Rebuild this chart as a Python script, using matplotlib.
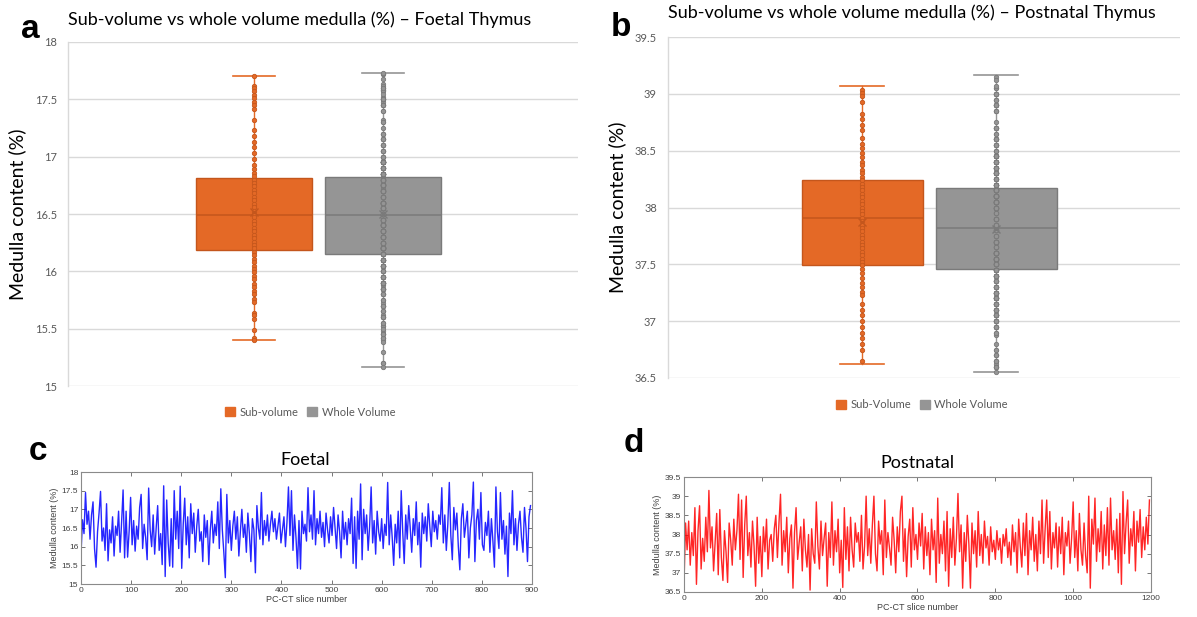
import numpy as np
import matplotlib
matplotlib.use("Agg")
import matplotlib.pyplot as plt
from matplotlib.patches import Patch

# ---------------- data ----------------
box_labels_a = ["Sub-volume", "Whole Volume"]
box_labels_b = ["Sub-Volume", "Whole Volume"]

foetal_whislo = [15.40, 15.17]
foetal_q1 = [16.19, 16.15]
foetal_med = [16.49, 16.49]
foetal_q3 = [16.81, 16.82]
foetal_whishi = [17.70, 17.73]
foetal_mean = [16.52, 16.50]

post_whislo = [36.62, 36.55]
post_q1 = [37.49, 37.46]
post_med = [37.91, 37.82]
post_q3 = [38.24, 38.17]
post_whishi = [39.07, 39.17]
post_mean = [37.87, 37.81]

# sub-volume inner points (panel a / b)
sub_foetal_points = [17.70, 17.62, 17.60, 17.57, 17.54, 17.51, 17.48, 17.45, 17.42, 17.32,
                     17.23, 17.18, 17.13, 17.08, 17.03, 16.98, 16.93, 16.89, 16.86, 16.83,
                     16.80, 16.77, 16.74, 16.71, 16.68, 16.65, 16.62, 16.59, 16.56, 16.53,
                     16.50, 16.47, 16.44, 16.41, 16.38, 16.35, 16.32, 16.29, 16.26, 16.23,
                     16.20, 16.17, 16.14, 16.11, 16.08, 16.05, 16.02, 15.99, 15.96, 15.93,
                     15.89, 15.86, 15.83, 15.80, 15.76, 15.73, 15.64, 15.62, 15.58, 15.49,
                     15.42, 15.40]
sub_post_points = [39.03, 39.01, 38.98, 38.93, 38.82, 38.78, 38.73, 38.68, 38.61, 38.56,
                   38.52, 38.48, 38.44, 38.40, 38.37, 38.33, 38.30, 38.27, 38.24, 38.21,
                   38.18, 38.15, 38.12, 38.09, 38.06, 38.03, 38.00, 37.97, 37.94, 37.91,
                   37.88, 37.85, 37.82, 37.79, 37.76, 37.73, 37.70, 37.67, 37.64, 37.61,
                   37.58, 37.55, 37.52, 37.49, 37.46, 37.42, 37.38, 37.34, 37.30, 37.26,
                   37.23, 37.15, 37.10, 37.05, 37.00, 36.95, 36.90, 36.85, 36.80, 36.75,
                   36.65]

# panel c: foetal medulla content, every 3rd PC-CT slice
foetal_slices_step = 3
foetal_series = [
    15.80, 16.72, 16.35, 17.45, 16.60, 16.95, 16.20, 16.85, 17.20, 15.95,
    15.45, 16.40, 16.90, 17.48, 16.15, 16.50, 15.90, 17.15, 15.62, 16.45,
    16.10, 16.80, 15.75, 16.55, 16.30, 16.95, 15.85, 16.65, 17.52, 15.70,
    16.95, 15.72, 16.40, 17.32, 16.05, 16.70, 15.88, 16.55, 16.20, 17.05,
    17.40, 15.95, 16.60, 16.25, 15.65, 17.57, 16.45, 16.00, 16.85, 15.80,
    16.50, 17.10, 15.90, 16.35, 15.52, 17.63, 15.20, 17.25, 16.10, 15.48,
    16.75, 15.45, 17.50, 16.20, 16.95, 15.95, 17.62, 15.42, 16.60, 17.30,
    16.05, 16.80, 15.70, 17.15, 16.35, 16.90, 15.85, 16.55, 17.00, 16.15,
    16.40, 15.60, 16.85, 16.25, 16.70, 15.52, 16.45, 16.95, 16.10, 16.60,
    16.30, 17.20, 15.95, 17.55, 16.45, 15.85, 15.17, 17.40, 16.10, 16.70,
    15.90, 16.55, 16.95, 16.20, 16.80, 15.75, 16.40, 17.00, 16.25, 16.60,
    15.85, 16.90, 16.35, 15.60, 16.75, 16.45, 15.30, 17.10, 16.50, 16.20,
    17.45, 16.05, 16.70, 16.30, 16.85, 16.15, 16.60, 16.95, 16.40, 16.75,
    16.20, 16.55, 16.90, 16.10, 16.45, 16.80, 16.00, 16.65, 17.60, 16.30,
    17.50, 15.90, 16.85, 16.25, 15.42, 16.70, 15.40, 16.95, 16.35, 16.60,
    16.15, 17.58, 16.40, 16.85, 16.20, 17.50, 16.05, 16.75, 16.35, 16.95,
    16.25, 16.65, 16.00, 16.90, 16.45, 16.10, 16.80, 16.30, 17.05, 16.50,
    15.95, 16.85, 16.40, 15.70, 16.95, 16.20, 16.65, 16.05, 16.75, 16.35,
    17.30, 15.55, 16.80, 15.42, 16.95, 16.20, 17.68, 15.65, 17.00, 16.35,
    16.85, 15.90, 16.55, 17.60, 16.10, 16.70, 15.80, 16.95, 16.40, 16.15,
    16.75, 15.95, 16.60, 16.30, 17.72, 16.05, 16.85, 16.25, 15.50, 16.60,
    16.10, 16.95, 15.70, 17.50, 16.40, 15.55, 16.85, 16.20, 17.10, 16.50,
    15.85, 16.75, 16.30, 17.20, 16.05, 16.65, 15.45, 16.90, 16.35, 16.80,
    16.15, 17.15, 16.55, 16.00, 16.95, 16.40, 16.70, 16.20, 16.85, 16.60,
    17.58, 16.10, 16.85, 15.90, 16.60, 17.72, 16.30, 15.65, 17.05, 16.45,
    16.90, 16.00, 15.38, 16.75, 17.15, 16.25, 16.60, 16.95, 15.70, 16.50,
    16.85, 17.73, 15.60, 16.70, 17.00, 16.20, 17.45, 16.05, 15.90, 16.65,
    16.30, 16.95, 15.85, 16.75, 16.15, 15.45, 17.60, 16.40, 15.95, 17.45,
    16.20, 16.70, 15.80, 16.55, 15.20, 16.90, 16.35, 17.50, 16.05, 16.75,
    15.90, 16.60, 16.95, 16.25, 15.85, 17.05, 16.50, 15.60, 16.80, 17.10,
]

# panel d: postnatal medulla content, every 4th PC-CT slice
post_slices_step = 4
post_series = [
    36.70, 38.30, 37.60, 38.35, 37.20, 38.05, 37.45, 38.70, 36.70, 38.10,
    38.75, 37.10, 37.90, 37.30, 38.45, 37.55, 39.15, 37.65, 38.20, 37.05,
    37.80, 38.55, 36.95, 38.65, 37.40, 36.80, 38.10, 37.55, 36.75, 38.30,
    37.85, 37.20, 38.40, 37.60, 38.10, 39.05, 37.35, 38.90, 36.88, 38.25,
    39.00, 37.45, 38.05, 37.15, 38.35, 37.70, 36.65, 38.45, 37.25, 37.95,
    36.90, 38.20, 37.55, 38.40, 37.10, 37.85, 38.00, 37.30, 38.15, 38.50,
    37.40, 38.30, 39.05, 37.20, 38.10, 37.55, 38.45, 37.00, 37.90, 38.25,
    36.60, 38.05, 38.70, 37.35, 37.80, 38.20, 37.05, 38.40, 37.60, 37.15,
    38.00, 36.55, 38.15, 37.50, 37.25, 38.85, 37.70, 37.10, 38.35, 37.45,
    37.90, 38.30, 36.65, 38.05, 37.40, 38.85, 37.20, 38.10, 37.55, 38.40,
    37.00, 37.85, 36.62, 38.70, 37.35, 38.20, 37.05, 38.45, 37.60, 37.15,
    38.30, 37.80, 38.05, 37.30, 38.50, 37.10, 37.70, 39.00, 37.45, 38.15,
    37.25, 38.25, 39.00, 37.50, 37.05, 38.35, 37.75, 38.10, 36.95, 38.90,
    37.40, 38.05, 37.65, 37.20, 38.45, 37.85, 37.00, 38.20, 37.55, 38.60,
    39.00, 37.30, 38.15, 36.90, 37.95, 38.40, 37.15, 38.70, 37.60, 38.00,
    37.35, 38.30, 37.70, 38.55, 37.10, 38.20, 37.45, 38.05, 36.95, 38.40,
    37.60, 38.10, 36.75, 38.95, 37.25, 38.00, 37.50, 38.35, 37.05, 38.60,
    36.65, 38.15, 37.40, 38.45, 37.20, 37.90, 39.07, 37.55, 38.25, 36.60,
    38.05, 37.30, 38.50, 37.75, 36.60, 38.30, 37.50, 38.10, 37.15, 38.60,
    37.45, 38.00, 37.25, 38.35, 37.65, 37.95, 37.20, 38.20, 37.55, 37.85,
    37.35, 38.10, 37.60, 37.90, 37.25, 38.00, 37.70, 38.15, 37.40, 37.80,
    37.20, 38.25, 37.55, 38.05, 37.00, 38.40, 37.70, 37.15, 38.30, 37.45,
    38.55, 36.95, 38.10, 37.60, 38.45, 37.30, 38.00, 37.05, 38.35, 37.50,
    38.90, 37.25, 38.15, 38.90, 37.40, 38.60, 37.10, 38.05, 37.65, 38.30,
    37.15, 38.20, 37.50, 38.45, 36.95, 38.05, 37.70, 38.35, 37.25, 37.90,
    38.85, 37.40, 38.10, 37.05, 38.55, 37.60, 37.20, 38.30, 37.45, 37.00,
    39.00, 36.60, 38.40, 37.75, 38.95, 37.30, 38.15, 37.55, 38.60, 37.10,
    38.25, 37.45, 38.70, 37.20, 38.95, 37.60, 38.10, 37.35, 38.40, 37.00,
    38.55, 36.70, 39.12, 37.50, 38.30, 38.90, 37.25, 38.15, 37.70, 38.60,
    37.05, 38.35, 37.80, 38.65, 37.40, 38.20, 37.60, 38.45, 37.75, 38.90,
]

foetal_yticks = [15, 15.5, 16, 16.5, 17, 17.5, 18]
post_yticks = [36.5, 37, 37.5, 38, 38.5, 39, 39.5]

# ---------------- style ----------------
ORANGE = "#E46926"
ORANGE_D = "#C4561C"
GRAY = "#959595"
GRAY_D = "#7A7A7A"
GRID = "#D9D9D9"
TXT = "#595959"
EXCEL_FONT = "Lato"
MAT_FONT = "Liberation Sans"

W, H = 1197, 617
fig = plt.figure(figsize=(W / 100, H / 100), dpi=100)
fig.patch.set_facecolor("white")


def px_axes(l, t, r, b):
    return fig.add_axes([l / W, 1 - b / H, (r - l) / W, (b - t) / H])


def excel_box(ax, whislo, q1, med, q3, whishi, mean, points, ylim, yticks, xlim):
    stats = []
    for i in range(2):
        stats.append(dict(whislo=whislo[i], q1=q1[i], med=med[i], q3=q3[i],
                          whishi=whishi[i], mean=mean[i], fliers=[]))
    fills = [ORANGE, GRAY]
    darks = [ORANGE_D, GRAY_D]
    for i in range(2):
        bp = ax.bxp([stats[i]], positions=[i + 1], widths=0.9, patch_artist=True,
                    showmeans=True, showfliers=False, capwidths=0.33,
                    boxprops=dict(facecolor=fills[i], edgecolor=darks[i], linewidth=1.0),
                    medianprops=dict(color=darks[i], linewidth=1.1),
                    whiskerprops=dict(color=fills[i], linewidth=1.0),
                    capprops=dict(color=fills[i], linewidth=1.2),
                    meanprops=dict(marker="x", markeredgecolor=darks[i],
                                   markersize=6, markeredgewidth=1.0))
        for art in bp["boxes"]:
            art.set_zorder(2)
        for art in bp["medians"]:
            art.set_zorder(3)
        for art in bp["means"]:
            art.set_zorder(5)
        vals = points[i]
        ax.scatter(np.full(len(vals), i + 1.0), vals, s=10, facecolor=fills[i],
                   edgecolor=darks[i], linewidths=0.6, zorder=4)
    ax.set_ylim(*ylim)
    ax.set_xlim(*xlim)
    ax.set_yticks(yticks)
    ax.set_yticklabels([f"{v:g}" for v in yticks], fontsize=8, color=TXT,
                       family=EXCEL_FONT)
    ax.set_xticks([])
    ax.tick_params(axis="y", length=0, pad=8)
    ax.grid(axis="y", color=GRID, linewidth=1.0, zorder=0)
    ax.set_axisbelow(True)
    for s in ["top", "right", "bottom"]:
        ax.spines[s].set_visible(False)
    ax.spines["left"].set_color(GRID)
    ax.spines["left"].set_linewidth(1.0)
    ax.set_ylabel("Medulla content (%)", fontsize=14, family=EXCEL_FONT,
                  color="black", labelpad=6)


# ----- panel a -----
axa = px_axes(68, 42, 578, 386)
excel_box(axa, foetal_whislo, foetal_q1, foetal_med, foetal_q3, foetal_whishi,
          foetal_mean, [sub_foetal_points, foetal_series], (15, 18), foetal_yticks,
          (-0.44, 3.51))
fig.text(300 / W, 1 - 20 / H, "Sub-volume vs whole volume medulla (%) \u2013 Foetal Thymus",
         ha="center", va="center", fontsize=13, family=EXCEL_FONT)
handles = [Patch(facecolor=ORANGE, edgecolor=ORANGE), Patch(facecolor=GRAY, edgecolor=GRAY)]
leg = fig.legend(handles, box_labels_a, loc="center", bbox_to_anchor=(310 / W, 1 - 412 / H),
                 ncol=2, frameon=False, handlelength=0.9, handleheight=0.9,
                 handletextpad=0.4, columnspacing=0.8, prop=dict(family=EXCEL_FONT, size=8))
for t in leg.get_texts():
    t.set_color(TXT)

# ----- panel b -----
axb = px_axes(668, 37, 1180, 378)
excel_box(axb, post_whislo, post_q1, post_med, post_q3, post_whishi, post_mean,
          [sub_post_points, post_series], (36.5, 39.5), post_yticks, (-0.45, 3.37))
fig.text(912 / W, 1 - 13 / H, "Sub-volume vs whole volume medulla (%) \u2013 Postnatal Thymus",
         ha="center", va="center", fontsize=13, family=EXCEL_FONT)
leg = fig.legend(handles, box_labels_b, loc="center", bbox_to_anchor=(922 / W, 1 - 405 / H),
                 ncol=2, frameon=False, handlelength=0.9, handleheight=0.9,
                 handletextpad=0.4, columnspacing=0.8, prop=dict(family=EXCEL_FONT, size=8))
for t in leg.get_texts():
    t.set_color(TXT)


# ----- MATLAB-like panels c, d -----
def matlab_axes(ax, x, y, color, xlim, xticks, ylim, yticks):
    ax.plot(x, y, color=color, linewidth=1.0, alpha=0.85)
    ax.set_xlim(*xlim)
    ax.set_ylim(*ylim)
    ax.set_xticks(xticks)
    ax.set_yticks(yticks)
    ax.set_xticklabels([f"{v:g}" for v in xticks], fontsize=6, family=MAT_FONT, color="#404040")
    ax.set_yticklabels([f"{v:g}" for v in yticks], fontsize=6, family=MAT_FONT, color="#404040")
    ax.tick_params(direction="in", length=3, width=0.6, top=True, right=True,
                   color="#606060", pad=2)
    for s in ax.spines.values():
        s.set_color("#8a8a8a")
        s.set_linewidth(0.8)
    ax.set_xlabel("PC-CT slice number", fontsize=6.5, family=MAT_FONT, color="#404040", labelpad=1)
    ax.set_ylabel("Medulla content (%)", fontsize=6.5, family=MAT_FONT, color="#404040", labelpad=2)


axc = px_axes(81, 472, 532, 584)
xc = np.arange(len(foetal_series)) * foetal_slices_step
matlab_axes(axc, xc, foetal_series, "#0000FF", (0, 900), list(range(0, 901, 100)),
            (15, 18), [15, 15.5, 16, 16.5, 17, 17.5, 18])
fig.text(305 / W, 1 - 460 / H, "Foetal", ha="center", va="center", fontsize=13,
         family=EXCEL_FONT)

axd = px_axes(684, 477, 1151, 592)
xd = np.arange(len(post_series)) * post_slices_step
matlab_axes(axd, xd, post_series, "#FF0000", (0, 1200), list(range(0, 1201, 200)),
            (36.5, 39.5), [36.5, 37, 37.5, 38, 38.5, 39, 39.5])
fig.text(917 / W, 1 - 463 / H, "Postnatal", ha="center", va="center", fontsize=13,
         family=EXCEL_FONT)

# panel letters
for lab, (x, y) in {"a": (30, 30), "b": (621, 27), "c": (38, 452), "d": (634, 443)}.items():
    fig.text(x / W, 1 - y / H, lab, ha="center", va="center", fontsize=24,
             fontweight="bold", family="Liberation Sans")

fig.savefig("out.png", dpi=100, facecolor="white")
